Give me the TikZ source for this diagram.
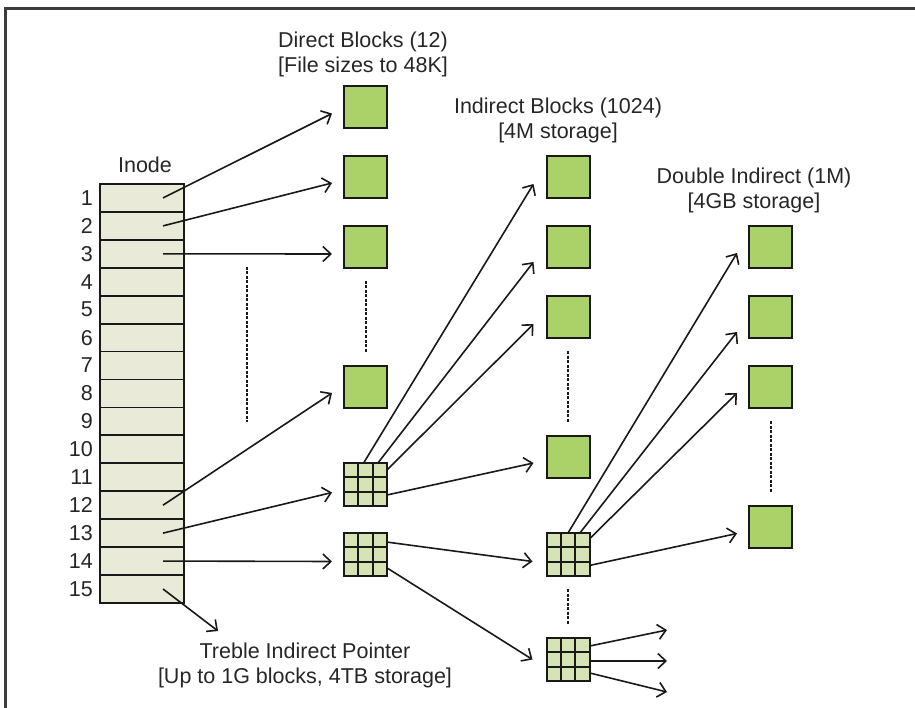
\documentclass[tikz,border=0pt]{standalone}
\usepackage{fontspec}
\setmainfont{Liberation Sans}
\usetikzlibrary{arrows.meta,positioning,calc}
\definecolor{blkgreen}{RGB}{170,210,105}
\definecolor{gridgreen}{RGB}{214,227,181}
\definecolor{inodefill}{RGB}{234,234,216}
\definecolor{linecol}{RGB}{25,25,25}
\definecolor{framecol}{RGB}{60,60,60}

\begin{document}
\begin{tikzpicture}[x=1pt,y=-1pt,
  every node/.style={font=\fontsize{21.5}{25}\selectfont, text=black!85},
  cell/.style={draw=linecol, line width=1.8pt, fill=inodefill, minimum width=84pt, minimum height=27.93pt, inner sep=0pt, outer sep=0pt},
  datablk/.style={draw=linecol, line width=2pt, fill=blkgreen, minimum width=43pt, minimum height=42pt, inner sep=0pt, outer sep=0pt},
  ptrblk/.style={draw=linecol, line width=2pt, fill=gridgreen, minimum size=43pt, inner sep=0pt, outer sep=0pt},
  ptr/.style={draw=linecol, line width=1.6pt, -{Straight Barb[length=8pt,width=15pt]}},
  gap/.style={draw=linecol, line width=2pt, dash pattern=on 3pt off 1.5pt, shorten <=13pt, shorten >=13pt},
  lbl/.style={align=center, inner sep=0pt}]
  \useasboundingbox (0,0) rectangle (915,708);
  \draw[framecol, line width=2.5pt] (5.5,708) -- (5.5,8.5) -- (915,8.5);

  \node[lbl] (ilbl) at (145,165) {Inode};
  \foreach \k in {1,...,15} {
    \node[cell] (i\k) at (142,{184+(\k-0.5)*27.93}) {};
    \node[inner sep=0pt, left=7pt of i\k] {\k};
    \coordinate (p\k) at ($(i\k.center)+(21,0)$);
  }

  \node[lbl] (dlbl) at (363,54) {Direct Blocks (12)\\{[}File sizes to 48K]};
  \node[datablk] (d1) at (365.5,107.5) {};
  \node[datablk] (d2) at (365.5,177) {};
  \node[datablk] (d3) at (365.5,247) {};
  \node[datablk] (d8) at (365.5,387) {};
  \node[ptrblk] (g1) at (365.5,484.5) {};
  \node[ptrblk] (g2) at (365.5,554.5) {};

  \node[lbl] (nlbl) at (558,120) {Indirect Blocks (1024)\\{[}4M storage]};
  \node[datablk] (n1) at (568,177) {};
  \node[datablk] (n2) at (568,247) {};
  \node[datablk] (n3) at (568,317) {};
  \node[datablk] (n4) at (568,457) {};
  \node[ptrblk] (g3) at (568,554.5) {};
  \node[ptrblk] (g4) at (568,659.5) {};

  \node[lbl] (blbl) at (754,190) {Double Indirect (1M)\\{[}4GB storage]};
  \node[datablk] (b1) at (770.5,247) {};
  \node[datablk] (b2) at (770.5,317) {};
  \node[datablk] (b3) at (770.5,387) {};
  \node[datablk] (b4) at (770.5,526.5) {};

  \node[lbl] (tlbl) at (305,665) {Treble Indirect Pointer\\{[}Up to 1G blocks, 4TB storage]};

  \foreach \g in {g1,g2,g3,g4}
    \foreach \f in {1,2} {
      \draw[draw=linecol, line width=1.8pt] ($(\g.north west)!\f/3!(\g.north east)$) -- ($(\g.south west)!\f/3!(\g.south east)$);
      \draw[draw=linecol, line width=1.8pt] ($(\g.north west)!\f/3!(\g.south west)$) -- ($(\g.north east)!\f/3!(\g.south east)$);
    }

  \coordinate (e1) at (247,267);
  \coordinate (e2) at (247,422);
  \coordinate (tp) at (218,631);
  \coordinate (t1) at (667,630);
  \coordinate (t2) at (667,661);
  \coordinate (t3) at (667,692);

  \draw[gap, shorten <=0pt, shorten >=0pt] (e1) -- (e2);
  \draw[gap] (d3.south) -- (d8.north);
  \draw[gap] (n3.south) -- (n4.north);
  \draw[gap] (b3.south) -- (b4.north);
  \draw[gap] (g3.south) -- (g4.north);

  \draw[ptr] (p1) -- ([shift={(-12,6)}]d1.west);
  \draw[ptr] (p2) -- ([shift={(-12,6)}]d2.west);
  \draw[ptr] (p3) -- ([shift={(-12,7)}]d3.west);
  \draw[ptr] (p12) -- ([shift={(-12,6)}]d8.west);
  \draw[ptr] (p13) -- ([shift={(-12,8)}]g1.west);
  \draw[ptr] (p14) -- ([shift={(-12,7)}]g2.west);
  \draw[ptr] (p15) -- (tp);

  \draw[ptr] (g1.95) -- ([shift={(-13,7)}]n1.west);
  \draw[ptr] (g1.60) -- ([shift={(-13,15)}]n2.west);
  \draw[ptr] (g1.34) -- ([shift={(-13,7)}]n3.west);
  \draw[ptr] (g1.-26) -- ([shift={(-13,6)}]n4.west);
  \draw[ptr] (g2.30) -- ([shift={(-14,7)}]g3.west);
  \draw[ptr] (g2.-32) -- ([shift={(-14,0)}]g4.west);

  \draw[ptr] (g3.90) -- ([shift={(-12,6)}]b1.west);
  \draw[ptr] (g3.61) -- ([shift={(-12,15)}]b2.west);
  \draw[ptr] (g3.36) -- ([shift={(-12,6)}]b3.west);
  \draw[ptr] (g3.-27) -- ([shift={(-12,7)}]b4.west);

  \draw[ptr] (g4.32) -- (t1);
  \draw[ptr] (g4.-4) -- (t2);
  \draw[ptr] (g4.-32) -- (t3);
\end{tikzpicture}
\end{document}
